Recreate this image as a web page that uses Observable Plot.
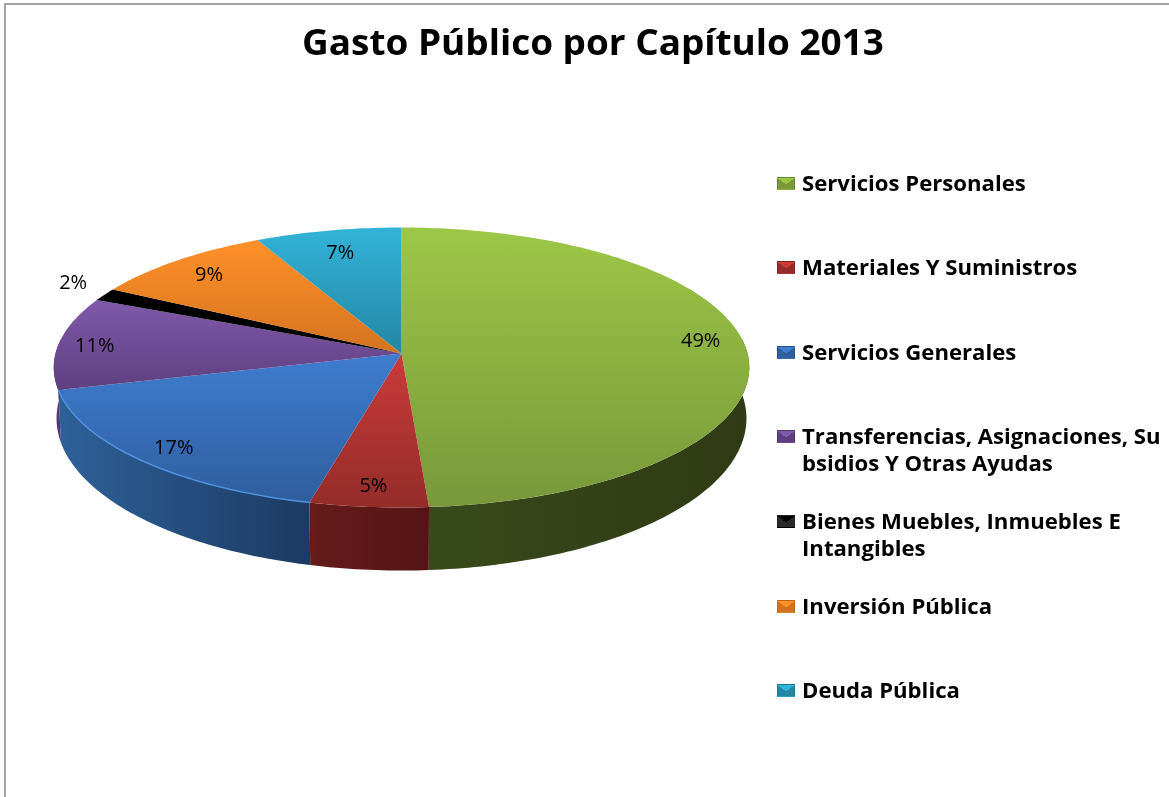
<!DOCTYPE html>
<html lang="es">
<head>
<meta charset="utf-8">
<title>Gasto Público por Capítulo 2013</title>
<script src="https://cdn.jsdelivr.net/npm/d3@7"></script>
<script src="https://cdn.jsdelivr.net/npm/@observablehq/plot@0.6"></script>
<style>
  html, body { margin: 0; padding: 0; background: #fff; }
  #page { position: relative; width: 1169px; height: 797px; overflow: hidden; font-family: "Open Sans", sans-serif; color: #000; filter: blur(0.45px); }
  #page svg { position: absolute; left: 0; top: 0; }
  #frame { position: absolute; left: 4px; top: 3px; right: -4px; bottom: -4px; border-left: 2px solid #a4a4a4; border-top: 2px solid #a4a4a4; }
  h1 { position: absolute; left: 0; top: 18px; width: 1186px; margin: 0; text-align: center; font-size: 36px; line-height: 48px; font-weight: 700; transform: scaleX(1.025); transform-origin: 593px 0; }
  #legend { position: absolute; left: 777px; top: 0; width: 392px; }
  .item { position: absolute; left: 0; display: flex; font-size: 20.5px; line-height: 27px; font-weight: 700; width: 392px; }
  .sw { flex: none; width: 18px; height: 13px; margin: 7px 7px 0 0; box-sizing: border-box; border: 1px solid rgba(0,0,0,.12); }
  .tx { white-space: pre; display: block; transform: scaleX(1.08); transform-origin: 0 0; }
  g[aria-label="sombra"] { filter: blur(3px); }
</style>
</head>
<body>
<div id="page">
  <div id="frame"></div>
  <h1>Gasto Público por Capítulo 2013</h1>
  <div id="legend"></div>
</div>
<script>
// Data
const categories = ["Servicios Personales", "Materiales Y Suministros", "Servicios Generales",
  "Transferencias, Asignaciones, Su\nbsidios Y Otras Ayudas", "Bienes Muebles, Inmuebles E\nIntangibles",
  "Inversión Pública", "Deuda Pública"];
const shares = [48.86, 5, 17, 10.7, 1.5, 9.45, 7.49];
const topLight = ["#9cc746", "#ca3b39", "#3f7dcf", "#8059aa", "#000000", "#ff9029", "#33b3d8"];
const topDark  = ["#78983a", "#942c2a", "#2f5e9e", "#5e3f80", "#000000", "#d4731f", "#2386a4"];
const sideLeft  = ["#384a1b", "#651c1b", "#2e6199", "#5a3a80", "#000000", "#b0601a", "#1c6f88"];
const sideRight = ["#303a14", "#541413", "#1c3a63", "#4c3070", "#000000", "#b0601a", "#1c6f88"];
const labelRadius = [0.88, 0.87, 0.88, 0.895, 1.14, 0.85, 0.82];
const labelTurn = [-4.8, 0, 0, 0, 2.3, 0, 0];

// Perspective of the tilted pie, in pie units
const tilt = -0.1;
const project = (deg, r = 1) => {
  const a = deg * Math.PI / 180, u = r * Math.sin(a), v = -r * Math.cos(a), d = 1 + tilt * v;
  return [u / d, v / d];
};
const lower = ([x, y]) => [0.992 * x, 1.086 * y + 0.359];
const sideFrom = 84, sideTo = 276;

let sum = 0;
const slices = shares.map((s, i) => {
  const a0 = sum * 3.6; sum += s; const a1 = sum * 3.6;
  return {i, name: categories[i], share: s, a0, a1, mid: (a0 + a1) / 2};
});
const steps = (a, b) => { const n = Math.max(1, Math.ceil(b - a)); return d3.range(n + 1).map(k => a + (b - a) * k / n); };
const toPts = arr => arr.map(([x, y]) => ({x, y}));

const faceMarks = slices.map(s => Plot.line(
  toPts([[0, 0], ...steps(s.a0, s.a1).map(a => project(a)), [0, 0]]),
  {x: "x", y: "y", stroke: "none", fill: `url(#top${s.i})`}));

const sideMarks = slices.filter(s => s.a1 > sideFrom && s.a0 < sideTo).map(s => {
  const a = steps(Math.max(s.a0, sideFrom), Math.min(s.a1, sideTo));
  return Plot.line(
    toPts([...a.map(d => project(d)), ...a.slice().reverse().map(d => lower(project(d)))]),
    {x: "x", y: "y", stroke: "none", fill: `url(#side${s.i})`});
});

const blue = slices[2];
const rimMark = Plot.line(
  toPts(steps(blue.a0, blue.a1).map(d => project(d))),
  {x: "x", y: "y", stroke: "#4f93e0", strokeWidth: 1.5});

const shadow = Plot.line(
  toPts(steps(sideFrom, sideTo).map(d => lower(project(d)))),
  {x: "x", y: "y", stroke: "#444", strokeOpacity: 0.7, strokeWidth: 5, dy: 1, ariaLabel: "sombra"});

const labels = slices.map(s => {
  const [x, y] = project(s.mid + labelTurn[s.i], labelRadius[s.i]);
  return {x, y, text: Math.round(s.share) + "%"};
});

const chart = Plot.plot({
  width: 1169, height: 797,
  margin: 0,
  x: {axis: null, domain: [-1, 1], range: [55, 747]},
  y: {axis: null, domain: [-1, 1], range: [214.4, 491.6]},
  style: {background: "transparent", overflow: "visible"},
  marks: [
    shadow,
    ...sideMarks,
    ...faceMarks,
    rimMark,
    Plot.text(labels, {x: "x", y: "y", dy: 1, text: "text", fontSize: 20, fontFamily: "Open Sans, sans-serif", fill: "#000"})
  ]
});

// Gradients used as the slice fills
const defs = d3.create("svg:defs");
const grad = (id, vertical, c0, c1) => {
  const g = defs.append("linearGradient").attr("id", id).attr("x1", 0).attr("y1", 0)
    .attr("x2", vertical ? 0 : 1).attr("y2", vertical ? 1 : 0);
  g.append("stop").attr("offset", "0%").attr("stop-color", c0);
  g.append("stop").attr("offset", "100%").attr("stop-color", c1);
};
slices.forEach(s => {
  grad(`top${s.i}`, true, topLight[s.i], topDark[s.i]);
  grad(`side${s.i}`, false, sideLeft[s.i], sideRight[s.i]);
});
chart.prepend(defs.node());
document.getElementById("page").insertBefore(chart, document.querySelector("h1"));

// Legend
const legend = d3.select("#legend");
const rowTop = i => 169.5 + i * 84.6;
slices.forEach(s => {
  const row = legend.append("div").attr("class", "item").style("top", rowTop(s.i) + "px");
  const dark = s.i === 4 ? "#2a2a2a" : topDark[s.i];
  row.append("span").attr("class", "sw")
    .style("background", `conic-gradient(from -52deg at 50% 60%, ${topLight[s.i]} 0deg 104deg, ${dark} 104deg 360deg)`);
  row.append("span").attr("class", "tx").text(s.name);
});
</script>
</body>
</html>
